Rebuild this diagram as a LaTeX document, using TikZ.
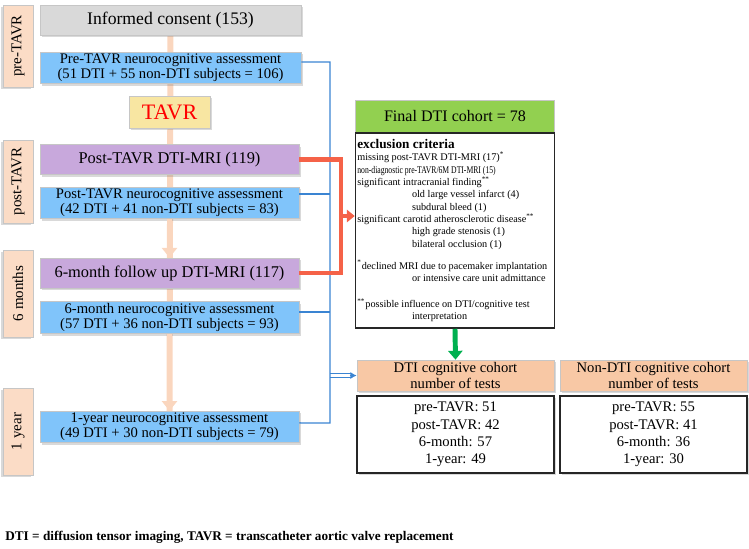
\documentclass[tikz,border=0pt]{standalone}
\usepackage{fontspec}
\setmainfont{Liberation Serif}
\usetikzlibrary{arrows.meta,shadows,backgrounds}

\definecolor{consentgray}{RGB}{217,217,217}
\definecolor{assessblue}{RGB}{128,196,250}
\definecolor{mripurple}{RGB}{200,168,220}
\definecolor{tavryellow}{RGB}{248,230,162}
\definecolor{sidepeach}{RGB}{251,220,198}
\definecolor{cohortpeach}{RGB}{248,200,165}
\definecolor{spinepeach}{RGB}{250,214,190}
\definecolor{finalgreen}{RGB}{146,208,80}
\definecolor{arrowgreen}{RGB}{0,176,80}
\definecolor{mrired}{RGB}{245,98,72}
\definecolor{busblue}{RGB}{58,132,210}

\newcommand{\pxu}{0.567pt}

\begin{document}
\begin{tikzpicture}[x=0.567pt,y=-0.567pt,
  plain/.style={draw=gray!45,line width=0.4pt,inner sep=1pt,align=center},
  box/.style={plain,drop shadow={shadow xshift=1.2pt,shadow yshift=-1.2pt,opacity=0.3}},
  side/.style={plain,fill=sidepeach,rotate=90,minimum height=30*\pxu,
    font=\fontsize{8.5}{10}\selectfont,
    drop shadow={shadow xshift=-1.2pt,shadow yshift=-1.2pt,opacity=0.3}},
  stage/.style={box,minimum width=259*\pxu,minimum height=30*\pxu},
  assess/.style={stage,fill=assessblue,font=\fontsize{8.3}{8.7}\selectfont},
  mri/.style={stage,fill=mripurple,font=\fontsize{9.3}{11}\selectfont},
  cohort/.style={box,fill=cohortpeach,minimum height=31*\pxu,font=\fontsize{8.3}{8.7}\selectfont},
  tally/.style={box,fill=white,draw=black!85,line width=0.85pt,minimum height=77*\pxu,
    font=\fontsize{8.3}{9.9}\selectfont},
  spine/.style={spinepeach,line width=3.4pt},
  bus/.style={busblue,line width=0.8pt},
  mriline/.style={mrired,line width=2.8pt},
]
\useasboundingbox (0,0) rectangle (749,548);

% time points
\node[side,minimum width=82*\pxu] (lPre) at (18,46) {pre-TAVR};
\node[side,minimum width=83*\pxu] (lPost) at (18,181.5) {post-TAVR};
\node[side,minimum width=87*\pxu] (lSix) at (18,293.5) {6 months};
\node[side,minimum width=87*\pxu] (lYear) at (18,431.5) {1 year};

% study flow
\node[box,fill=consentgray,minimum width=261*\pxu,minimum height=30*\pxu,
  font=\fontsize{10}{12}\selectfont] (consent) at (170.5,20) {Informed consent (153)};
\node[assess,minimum width=261*\pxu] (preNC) at (170.5,68)
  {Pre-TAVR neurocognitive assessment\\(51 DTI + 55 non-DTI subjects = 106)};
\node[box,fill=tavryellow,text=red,minimum width=81*\pxu,minimum height=32*\pxu,
  font=\fontsize{12.5}{14}\selectfont] (tavr) at (169.5,112) {TAVR};
\node[mri] (postMRI) at (169.5,159.5) {Post-TAVR DTI-MRI (119)};
\node[assess] (postNC) at (169.5,203)
  {Post-TAVR neurocognitive assessment\\(42 DTI + 41 non-DTI subjects = 83)};
\node[mri] (sixMRI) at (169.5,273) {6-month follow up DTI-MRI (117)};
\node[assess] (sixNC) at (169.5,317.5)
  {6-month neurocognitive assessment\\(57 DTI + 36 non-DTI subjects = 93)};
\node[assess] (yearNC) at (169.5,427)
  {1-year neurocognitive assessment\\(49 DTI + 30 non-DTI subjects = 79)};

% cohort
\node[plain,fill=finalgreen,minimum width=199*\pxu,minimum height=32*\pxu,
  font=\fontsize{9.1}{11}\selectfont] (final) at (455,116) {Final DTI cohort = 78};
\node[draw=black!85,line width=0.85pt,minimum width=199*\pxu,minimum height=195*\pxu]
  (excl) at (455,230.5) {};
\node[anchor=north west,inner sep=0pt,align=left,font=\fontsize{5.8}{7}\selectfont]
  (crit) at (357,139) {%
  {\fontsize{7.5}{8}\selectfont\bfseries exclusion criteria}\\
  missing post-TAVR DTI-MRI (17)\textsuperscript{*}\\
  \scalebox{0.75}[1]{non-diagnostic pre-TAVR/6M DTI-MRI (15)}\\
  significant intracranial finding\textsuperscript{**}\\
  \hspace*{31pt}old large vessel infarct (4)\\
  \hspace*{31pt}subdural bleed (1)\\
  significant carotid atherosclerotic disease\textsuperscript{**}\\
  \hspace*{31pt}high grade stenosis (1)\\
  \hspace*{31pt}bilateral occlusion (1)\\[5.5pt]
  \textsuperscript{*}declined MRI due to pacemaker implantation\\
  \hspace*{31pt}or intensive care unit admittance\\[7.7pt]
  \textsuperscript{**}possible influence on DTI/cognitive test\\
  \hspace*{31pt}interpretation};

\node[cohort,minimum width=197*\pxu] (dtiCoh) at (455.5,375.5) {DTI cognitive cohort\\number of tests};
\node[cohort,minimum width=187*\pxu] (nonCoh) at (653.5,375.5) {Non-DTI cognitive cohort\\number of tests};
\node[tally,minimum width=197*\pxu] (dtiTests) at (455.5,434.5)
  {pre-TAVR: 51\\post-TAVR: 42\\6-month: 57\\1-year: 49};
\node[tally,minimum width=187*\pxu] (nonTests) at (653.5,434.5)
  {pre-TAVR: 55\\post-TAVR: 41\\6-month: 36\\1-year: 30};

\node[anchor=west,inner sep=0pt,font=\fontsize{7.5}{8}\selectfont\bfseries] (abbr) at (5,537)
  {DTI = diffusion tensor imaging, TAVR = transcatheter aortic valve replacement};

% timeline
\begin{scope}[on background layer]
\draw[spine] (consent.south) -- (yearNC.north);
\end{scope}
\draw[spine,-{Triangle[width=8.5pt,length=5.5pt]}] (postNC.south) -- (sixMRI.north);
\draw[spine,-{Triangle[width=8.5pt,length=5.5pt]}] (sixNC.south) -- (yearNC.north);

% cognitive tests
\coordinate (busTop) at (330,62);
\coordinate (busBot) at (330,423);
\draw[busblue,line width=0.6pt,double,double distance=1.4pt,shorten >=3pt]
  (busTop |- dtiCoh.west) -- (dtiCoh.west);
\draw[bus] ([yshift=3.4pt]preNC.east) -- (busTop) -- (busBot) -- ([yshift=2.3pt]yearNC.east);
\draw[bus] ([yshift=5pt]postNC.east) -- ++(31,0);
\draw[bus] ([yshift=3.1pt]sixNC.east) -- ++(31,0);
\draw[bus,-{Latex[length=3.5pt,width=4pt]}] ([xshift=-4pt]dtiCoh.west) -- (dtiCoh.west);

% MRI scans
\coordinate (mriTurn) at (341,159.5);
\coordinate (mriMid) at (341,216);
\draw[mriline] (postMRI.east) -- (mriTurn) |- (sixMRI.east);
\draw[mriline,-{Triangle[width=7pt,length=4.5pt]}] (mriMid) -- (mriMid -| excl.west);

\draw[arrowgreen,line width=2.8pt,-{Triangle[width=8pt,length=5pt]}] (excl.south) -- (dtiCoh.north);
\end{tikzpicture}
\end{document}
